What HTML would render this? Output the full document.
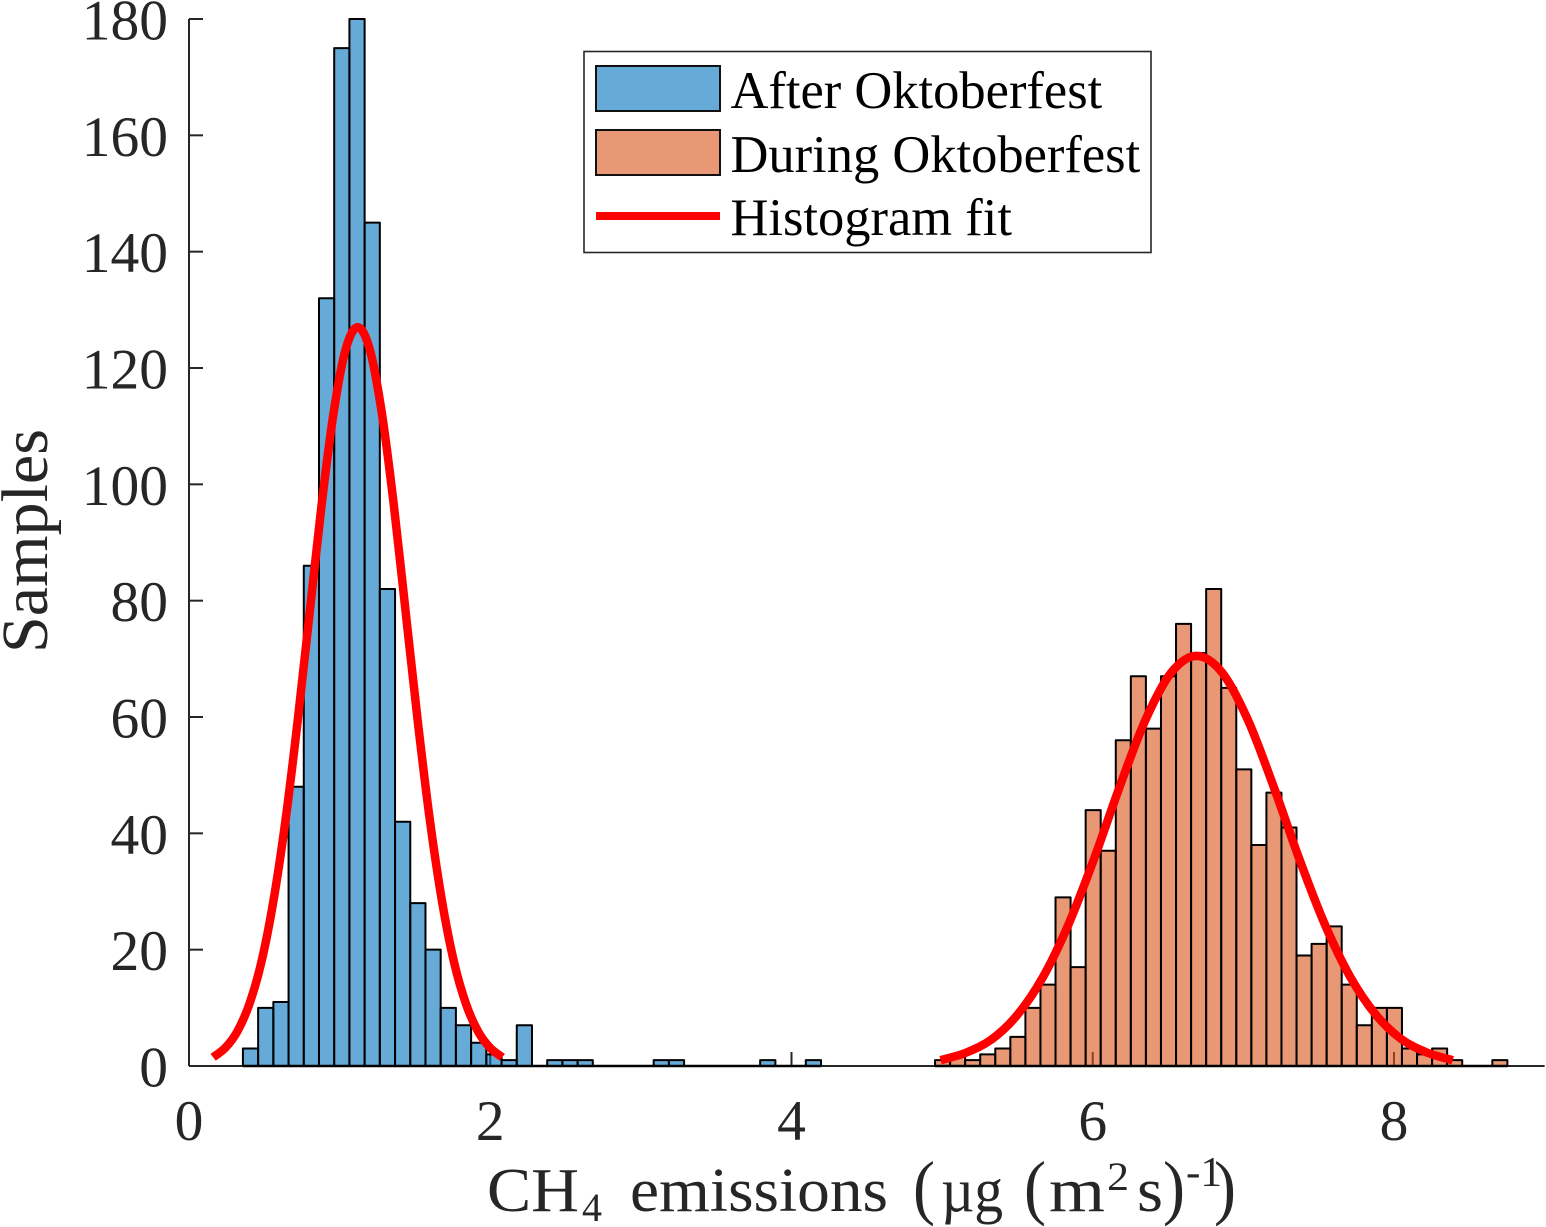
<!DOCTYPE html>
<html>
<head>
<meta charset="utf-8">
<title>CH4 emissions histogram</title>
<style>
html,body{margin:0;padding:0;background:#fff;}
svg{display:block;}
text{font-family:"Liberation Serif",serif;}
</style>
</head>
<body>
<svg id="chart" xmlns="http://www.w3.org/2000/svg" width="1546" height="1227" viewBox="0 0 1546 1227">
  <rect x="0" y="0" width="1546" height="1227" fill="#ffffff"/>
  <g id="axes"></g>
  <g id="bars-after"></g>
  <g id="bars-during"></g>
  <g id="fits"></g>
  <g id="tick-labels" fill="#262626" font-size="57.5"></g>

  <g fill="#262626" font-size="62">
    <text x="487" y="1211" textLength="92" lengthAdjust="spacingAndGlyphs">CH</text>
    <text x="582" y="1221" font-size="40" textLength="20" lengthAdjust="spacingAndGlyphs">4</text>
    <text x="630" y="1211" textLength="258" lengthAdjust="spacingAndGlyphs">emissions</text>
    <text x="913" y="1211" font-size="72" textLength="22" lengthAdjust="spacingAndGlyphs">(</text>
    <text x="941" y="1211" textLength="62" lengthAdjust="spacingAndGlyphs">µg</text>
    <text x="1024" y="1211" font-size="72" textLength="22" lengthAdjust="spacingAndGlyphs">(</text>
    <text x="1049" y="1211" textLength="56" lengthAdjust="spacingAndGlyphs">m</text>
    <text x="1107" y="1190" font-size="40" textLength="22" lengthAdjust="spacingAndGlyphs">2</text>
    <text x="1137" y="1211" textLength="26" lengthAdjust="spacingAndGlyphs">s</text>
    <text x="1163" y="1211" font-size="72" textLength="22" lengthAdjust="spacingAndGlyphs">)</text>
    <text x="1186" y="1186" font-size="42" textLength="36" lengthAdjust="spacingAndGlyphs">-1</text>
    <text x="1214" y="1211" font-size="72" textLength="22" lengthAdjust="spacingAndGlyphs">)</text>
  </g>
  <text fill="#262626" font-size="66" transform="translate(47,653) rotate(-90)" textLength="224" lengthAdjust="spacingAndGlyphs">Samples</text>

  <g>
    <rect x="584" y="51.5" width="567" height="201" fill="#ffffff" stroke="#262626" stroke-width="1.6"/>
    <g>
      <rect x="596" y="66" width="124" height="45" fill="#66AAD7" stroke="#111111" stroke-width="2"/>
      <text x="730.5" y="108" font-size="52.5" fill="#000000">After Oktoberfest</text>
    </g>
    <g>
      <rect x="596" y="130" width="124" height="45" fill="#E89875" stroke="#111111" stroke-width="2"/>
      <text x="730.5" y="172" font-size="52.5" fill="#000000">During Oktoberfest</text>
    </g>
    <g>
      <line x1="596" y1="216" x2="720" y2="216" stroke="#ff0000" stroke-width="8"/>
      <text x="730.5" y="235" font-size="52.5" fill="#000000">Histogram fit</text>
    </g>
  </g>
</svg>
<script>
// Histogram bin counts
const afterBinStart = 0.358;
const afterBinWidth = 0.101;
const afterCounts = [3,10,11,48,86,132,175,180,145,82,42,28,20,10,7,4,2,1,7,0,1,1,1,0,0,0,0,1,1,0,0,0,0,0,1,0,0,1];
const duringBinStart = 4.953;
const duringBinWidth = 0.1;
const duringCounts = [1,2,1,2,3,5,10,14,29,17,44,37,56,67,58,67,76,71,82,65,51,38,47,41,19,21,24,14,7,10,10,3,2,3,1,0,0,1];

// Fit curves
const fitAfterX = [0.16,0.24,0.32,0.40,0.48,0.56,0.64,0.72,0.80,0.88,0.96,1.04,1.12,1.20,1.28,1.36,1.44,1.52,1.60,1.68,1.76,1.84,1.92,2.00,2.08];
const fitAfterY = [1.5,3.1,5.9,10.6,17.8,28.3,42.1,59,77.7,96.4,112.3,123.2,127,123.2,112.3,96.4,77.7,59,42.1,28.3,17.8,10.6,5.9,3.1,1.5];
const fitDuringX = [4.99,5.16,5.33,5.50,5.67,5.84,6.01,6.18,6.35,6.52,6.69,6.86,7.03,7.20,7.37,7.54,7.71,7.88,8.05,8.22,8.39];
const fitDuringY = [1,2.3,4.6,8.8,15.3,24.4,35.7,48.1,59.5,67.6,70.5,67.6,59.5,48.1,35.7,24.4,15.3,8.8,4.6,2.3,1];

// Tick labels
const xTicks = [0,2,4,6,8];
const yTicks = [0,20,40,60,80,100,120,140,160,180];

// Axis limits
const xMin = 0, xMax = 9, yMin = 0, yMax = 180;
const plotLeft = 189, plotRight = 1544.6, plotTop = 19, plotBottom = 1066;

function xScale(v){ return plotLeft + (v - xMin) / (xMax - xMin) * (plotRight - plotLeft); }
function yScale(v){ return plotBottom - (v - yMin) / (yMax - yMin) * (plotBottom - plotTop); }

const NS = 'http://www.w3.org/2000/svg';
function make(tag, parent){
  const el = document.createElementNS(NS, tag);
  parent.appendChild(el);
  return el;
}

const axes = document.getElementById('axes');
const labels = document.getElementById('tick-labels');

const xAxisLine = make('line', axes);


xAxisLine.setAttribute('x1', plotLeft);
xAxisLine.setAttribute('y1', plotBottom);
xAxisLine.setAttribute('x2', plotRight);
xAxisLine.setAttribute('y2', plotBottom);
xAxisLine.setAttribute('stroke', '#262626');
xAxisLine.setAttribute('stroke-width', '2');

const yAxisLine = make('line', axes);


yAxisLine.setAttribute('x1', plotLeft);
yAxisLine.setAttribute('y1', plotTop);
yAxisLine.setAttribute('x2', plotLeft);
yAxisLine.setAttribute('y2', plotBottom);
yAxisLine.setAttribute('stroke', '#262626');
yAxisLine.setAttribute('stroke-width', '2');

xTicks.forEach(function(t){
  const tick = make('line', axes);
  
  
  tick.setAttribute('x1', xScale(t));
  tick.setAttribute('x2', xScale(t));
  tick.setAttribute('y1', plotBottom);
  tick.setAttribute('y2', plotBottom - 14);
  tick.setAttribute('stroke', '#262626');
  tick.setAttribute('stroke-width', '2');
  const label = make('text', labels);
  
  
  label.setAttribute('x', xScale(t));
  label.setAttribute('y', 1140);
  label.setAttribute('text-anchor', 'middle');
  label.textContent = t;
});

yTicks.forEach(function(t){
  const tick = make('line', axes);
  
  
  tick.setAttribute('x1', plotLeft);
  tick.setAttribute('x2', plotLeft + 14);
  tick.setAttribute('y1', yScale(t));
  tick.setAttribute('y2', yScale(t));
  tick.setAttribute('stroke', '#262626');
  tick.setAttribute('stroke-width', '2');
  const label = make('text', labels);
  
  
  label.setAttribute('x', 168);
  label.setAttribute('y', yScale(t) + 20.5);
  label.setAttribute('text-anchor', 'end');
  label.textContent = t;
});

function drawBars(groupId, start, width, counts, fill){
  const group = document.getElementById(groupId);
  counts.forEach(function(c, i){
    if (c <= 0) return;
    const x0 = xScale(start + i * width);
    const x1 = xScale(start + (i + 1) * width);
    const bar = make('rect', group);
    
    
    bar.setAttribute('x', x0);
    bar.setAttribute('y', yScale(c));
    bar.setAttribute('width', x1 - x0);
    bar.setAttribute('height', yScale(0) - yScale(c));
    bar.setAttribute('fill', fill);
    bar.setAttribute('fill-opacity', '0.6');
    bar.setAttribute('stroke', '#000000');
    bar.setAttribute('stroke-width', '2');
    bar.setAttribute('stroke-linejoin', 'round');
  });
  // continuous baseline across the bin range
  const base = make('line', group);
  
  
  base.setAttribute('x1', xScale(start));
  base.setAttribute('x2', xScale(start + counts.length * width));
  base.setAttribute('y1', yScale(0));
  base.setAttribute('y2', yScale(0));
  base.setAttribute('stroke', '#000000');
  base.setAttribute('stroke-width', '2.4');
}
drawBars('bars-after', afterBinStart, afterBinWidth, afterCounts, 'rgb(0,114,189)');
drawBars('bars-during', duringBinStart, duringBinWidth, duringCounts, 'rgb(217,83,25)');

function curvePath(xs, ys){
  const p = xs.map(function(x, i){ return [xScale(x), yScale(ys[i])]; });
  let d = 'M' + p[0][0] + ' ' + p[0][1];
  for (let i = 0; i < p.length - 1; i++){
    const a = p[Math.max(i - 1, 0)], b = p[i], c = p[i + 1], e = p[Math.min(i + 2, p.length - 1)];
    d += 'C' + (b[0] + (c[0] - a[0]) / 6) + ' ' + (b[1] + (c[1] - a[1]) / 6) + ' ' +
         (c[0] - (e[0] - b[0]) / 6) + ' ' + (c[1] - (e[1] - b[1]) / 6) + ' ' + c[0] + ' ' + c[1];
  }
  return d;
}
const fits = document.getElementById('fits');

const fitAfter = make('path', fits);


fitAfter.setAttribute('d', curvePath(fitAfterX, fitAfterY));
fitAfter.setAttribute('fill', 'none');
fitAfter.setAttribute('stroke', '#ff0000');
fitAfter.setAttribute('stroke-width', '8.5');

const fitDuring = make('path', fits);


fitDuring.setAttribute('d', curvePath(fitDuringX, fitDuringY));
fitDuring.setAttribute('fill', 'none');
fitDuring.setAttribute('stroke', '#ff0000');
fitDuring.setAttribute('stroke-width', '8.5');
</script>
</body>
</html>
